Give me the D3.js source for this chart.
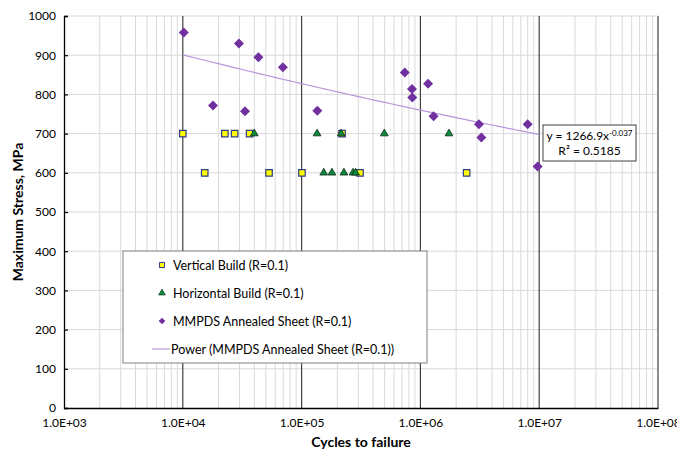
<!DOCTYPE html>
<html><head><meta charset="utf-8">
<script src="https://cdn.jsdelivr.net/npm/d3@7"></script>
<style>
body{margin:0;background:#fff;}
svg{display:block;font-family:Lato,"Open Sans",sans-serif;}
</style></head>
<body><svg id="c" width="677" height="455"></svg>
<script>
const vertCycles = [10000, 15300, 22600, 27300, 36500, 53200, 100700, 219000, 310000, 2450000];
const vertStress = [700, 600, 700, 700, 700, 600, 600, 700, 600, 600];
const horizCycles = [40000, 135000, 153600, 180000, 215000, 227000, 271000, 285000, 497000, 1740000];
const horizStress = [700, 700, 600, 600, 700, 600, 600, 600, 700, 700];
const mmpdsCycles = [10200, 17950, 29700, 33400, 43300, 69600, 135600, 738000, 850000, 855000, 1160000, 1290000, 3110000, 3260000, 8000000, 9700000];
const mmpdsStress = [958, 772, 930, 757, 895, 869, 758, 856, 814, 792, 827, 744, 724, 690, 724, 616];
const trendCoef = [1266.9, -0.037];
const trendRange = [1e4, 1e7];
const trendR2 = "0.5185";
const xTicks = [1e3, 1e4, 1e5, 1e6, 1e7, 1e8];
const yTicks = [0, 100, 200, 300, 400, 500, 600, 700, 800, 900, 1000];
const legendLabels = ["Vertical Build (R=0.1)", "Horizontal Build (R=0.1)", "MMPDS Annealed Sheet (R=0.1)", "Power (MMPDS Annealed Sheet (R=0.1))"];

const svg = d3.select("#c");
const L = 64, R = 658, T = 16, B = 408;
const x = d3.scaleLog().domain([1e3, 1e8]).range([L, R]);
const y = d3.scaleLinear().domain([0, 1000]).range([B, T]);

// minor vertical gridlines
const minor = [];
for (let e = 3; e < 8; e++) for (let m = 2; m <= 9; m++) minor.push(m * Math.pow(10, e));
svg.append("g").selectAll("line").data(minor).join("line")
  .attr("x1", d => x(d)).attr("x2", d => x(d)).attr("y1", T).attr("y2", B)
  .attr("stroke", "#d9d9d9").attr("stroke-width", 1);
// horizontal gridlines
svg.append("g").selectAll("line").data(yTicks.slice(1)).join("line")
  .attr("x1", L).attr("x2", R).attr("y1", d => y(d)).attr("y2", d => y(d))
  .attr("stroke", "#d9d9d9").attr("stroke-width", 1);
// major vertical lines
svg.append("g").selectAll("line").data(xTicks.slice(1, 5)).join("line")
  .attr("x1", d => x(d)).attr("x2", d => x(d)).attr("y1", T).attr("y2", B)
  .attr("stroke", "#404040").attr("stroke-width", 1.2);
// right border
svg.append("line").attr("x1", x(1e8)).attr("x2", x(1e8)).attr("y1", T).attr("y2", B)
  .attr("stroke", "#8c8c8c").attr("stroke-width", 2);

// axes
const xAxis = d3.axisBottom(x).tickValues(xTicks).tickSize(0).tickPadding(10)
  .tickFormat(d => "1.0E+" + String(Math.round(Math.log10(d))).padStart(2, "0"));
const gx = svg.append("g").attr("transform", `translate(0,${B})`).call(xAxis);
gx.select(".domain").attr("stroke", "#000").attr("stroke-width", 1.3);
gx.selectAll("text").attr("font-size", 12).attr("fill", "#000").attr("font-family", "Lato");

const yAxis = d3.axisLeft(y).tickValues(yTicks).tickSize(-4).tickPadding(8).tickFormat(d3.format("d"));
const gy = svg.append("g").attr("transform", `translate(${L},0)`).call(yAxis);
gy.select(".domain").attr("stroke", "#000").attr("stroke-width", 1.3);
gy.selectAll(".tick line").attr("stroke", "#000").attr("stroke-width", 1.2);
gy.selectAll("text").attr("font-size", 12).attr("fill", "#000").attr("font-family", "Lato");

// titles
svg.append("text").attr("x", (L + R) / 2).attr("y", 447).attr("text-anchor", "middle")
  .attr("font-size", 14).attr("font-weight", "bold").text("Cycles to failure");
svg.append("text").attr("transform", `translate(23,${(T + B) / 2}) rotate(-90)`)
  .attr("text-anchor", "middle").attr("font-size", 14).attr("font-weight", "bold")
  .text("Maximum Stress, MPa");

// trend line
const tx = d3.range(0, 61).map(i => Math.pow(10, Math.log10(trendRange[0]) + i / 60 * (Math.log10(trendRange[1]) - Math.log10(trendRange[0]))));
const line = d3.line().x(d => x(d)).y(d => y(trendCoef[0] * Math.pow(d, trendCoef[1])));
svg.append("path").datum(tx).attr("d", line).attr("fill", "none")
  .attr("stroke", "#b995dc").attr("stroke-width", 1.2);

// markers
const sq = d3.symbol().type(d3.symbolSquare).size(42);
const tri = d3.symbol().type(d3.symbolTriangle).size(26);
const dia = d3.symbol().type(d3.symbolSquare).size(50);
svg.append("g").selectAll("path").data(vertCycles).join("path")
  .attr("d", sq).attr("transform", (d, i) => `translate(${x(d)},${y(vertStress[i])})`)
  .attr("fill", "#ffff00").attr("stroke", "#2e3d8a").attr("stroke-width", 1.2);
svg.append("g").selectAll("path").data(horizCycles).join("path")
  .attr("d", tri).attr("transform", (d, i) => `translate(${x(d)},${y(horizStress[i])})`)
  .attr("fill", "#0a8a3a").attr("stroke", "#0b2a14").attr("stroke-width", 0.8);
svg.append("g").selectAll("path").data(mmpdsCycles).join("path")
  .attr("d", dia).attr("transform", (d, i) => `translate(${x(d)},${y(mmpdsStress[i])}) rotate(45)`)
  .attr("fill", "#7030a0");

// equation box
const eq = svg.append("g").attr("transform", "translate(543,125)");
eq.append("rect").attr("width", 93).attr("height", 36).attr("fill", "#fff")
  .attr("stroke", "#404040").attr("stroke-width", 1);
const t1 = eq.append("text").attr("x", 46.5).attr("y", 15).attr("text-anchor", "middle").attr("font-size", 12);
t1.append("tspan").text("y = " + trendCoef[0] + "x");
t1.append("tspan").attr("font-size", 8).attr("dy", -4).text(String(trendCoef[1]));
eq.append("text").attr("x", 46.5).attr("y", 30).attr("text-anchor", "middle").attr("font-size", 12)
  .text("R² = " + trendR2);

// legend
const lg = svg.append("g").attr("transform", "translate(123,251)");
lg.append("rect").attr("width", 304).attr("height", 112).attr("fill", "#fff")
  .attr("stroke", "#7f7f7f").attr("stroke-width", 1);
const rows = [14, 42, 70, 98];
lg.append("path").attr("d", d3.symbol().type(d3.symbolSquare).size(26))
  .attr("transform", `translate(39,${rows[0]})`).attr("fill", "#ffff00").attr("stroke", "#2e3d8a").attr("stroke-width", 1);
lg.append("path").attr("d", d3.symbol().type(d3.symbolTriangle).size(20))
  .attr("transform", `translate(39,${rows[1]})`).attr("fill", "#0a8a3a").attr("stroke", "#0b2a14").attr("stroke-width", 0.6);
lg.append("path").attr("d", d3.symbol().type(d3.symbolSquare).size(22))
  .attr("transform", `translate(39,${rows[2]}) rotate(45)`).attr("fill", "#7030a0");
lg.append("line").attr("x1", 29).attr("x2", 47).attr("y1", rows[3]).attr("y2", rows[3])
  .attr("stroke", "#b995dc").attr("stroke-width", 1.2);
lg.selectAll("text.l").data(legendLabels).join("text").attr("class", "l")
  .attr("x", (d, i) => i === 3 ? 48 : 50).attr("y", (d, i) => rows[i] + 4.5)
  .attr("font-size", 12.5).attr("fill", "#000").text(d => d);
</script></body></html>
